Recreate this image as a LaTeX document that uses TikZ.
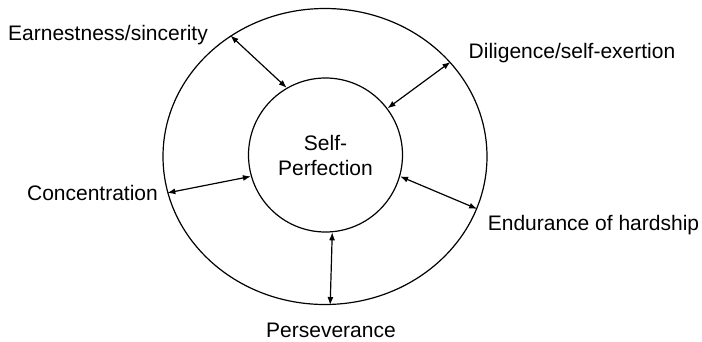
\documentclass[tikz,border=0pt]{standalone}
\usepackage{fontspec}
\setmainfont{Liberation Sans}
\usetikzlibrary{shapes.geometric,arrows.meta}

\begin{document}
\begin{tikzpicture}[x=1pt,y=-1pt,
  every node/.style={font=\fontsize{21}{25}\selectfont},
  ring/.style={draw,ellipse,line width=1.2pt,inner sep=0pt},
  link/.style={{Latex[length=8pt,width=6pt]}-{Latex[length=8pt,width=6pt]},line width=1.2pt},
  quality/.style={anchor=base}]

\useasboundingbox (0,0) rectangle (702,341); %% spacing

\node[ring, minimum width=324pt, minimum height=296pt] (outer) at (325,156.5) {};
\node[ring, circle, minimum size=154pt, align=center] (self) at (325.5,155)
  {Self-\\Perfection};

\node[quality] (earnest)  at (108,40)    {Earnestness/sincerity};
\node[quality] (diligent) at (572,58)    {Diligence/self-exertion};
\node[quality] (concent)  at (92.5,200)  {Concentration};
\node[quality] (endure)   at (593.5,230) {Endurance of hardship};
\node[quality] (persev)   at (331,337)   {Perseverance};

\draw[link] (self.120) -- (outer.128);
\draw[link] (self.37)  -- (outer.37);
\draw[link] (self.196) -- (outer.193);
\draw[link] (self.-16) -- (outer.-19.5);
\draw[link] (self.275.7) -- (outer.272.7);

\end{tikzpicture}
\end{document}
